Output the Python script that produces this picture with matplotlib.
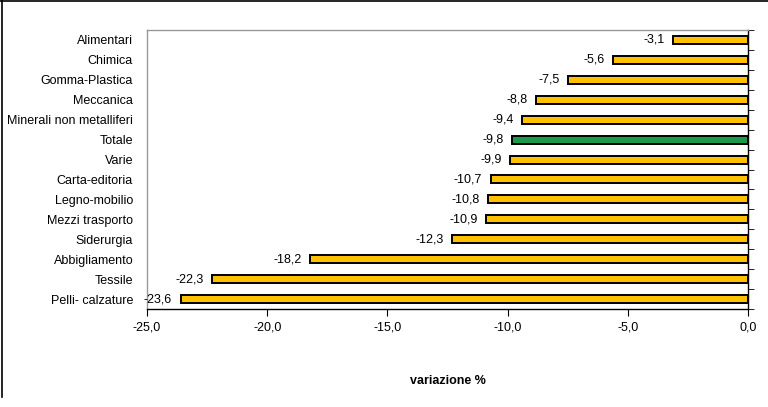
import matplotlib.pyplot as plt
from matplotlib.lines import Line2D

plt.rcParams['font.family'] = ['Liberation Sans', 'DejaVu Sans']

settori = ["Alimentari", "Chimica", "Gomma-Plastica", "Meccanica",
           "Minerali non metalliferi", "Totale", "Varie", "Carta-editoria",
           "Legno-mobilio", "Mezzi trasporto", "Siderurgia", "Abbigliamento",
           "Tessile", "Pelli- calzature"]
variazione = [-3.1, -5.6, -7.5, -8.8, -9.4, -9.8, -9.9, -10.7,
              -10.8, -10.9, -12.3, -18.2, -22.3, -23.6]
x_ticks = [-25, -20, -15, -10, -5, 0]

fig = plt.figure(figsize=(7.68, 4.07), dpi=100)
ax = fig.add_axes([147 / 768, 1 - 309 / 407, 601 / 768, 279 / 407])

colori = ["#1a9a4a" if s == "Totale" else "#ffc000" for s in settori]
pos = list(range(len(settori)))
ax.barh(pos, variazione, height=0.4, color=colori, edgecolor="black", linewidth=1.4)

for p, v in zip(pos, variazione):
    ax.text(v - 0.35, p, f"{v:.1f}".replace(".", ","), ha="right", va="center", fontsize=9)

ax.set_xlim(-25, 0)
ax.set_ylim(13.5, -0.5)
ax.set_xticks(x_ticks)
ax.set_xticklabels([f"{t:.1f}".replace(".", ",") for t in x_ticks], fontsize=9)
ax.set_yticks(pos)
ax.set_yticklabels(settori, fontsize=9)
ax.set_yticks([i - 0.5 for i in range(len(settori) + 1)], minor=True)
ax.tick_params(axis="y", which="major", length=0, pad=10)
ax.tick_params(axis="y", which="minor", left=False, right=True, length=4, direction="out")
ax.tick_params(axis="x", length=5, direction="out", pad=4)

for s in ["top", "left"]:
    ax.spines[s].set_color("#999999")
    ax.spines[s].set_linewidth(1)
for s in ["bottom", "right"]:
    ax.spines[s].set_color("black")
    ax.spines[s].set_linewidth(1)

ax.set_xlabel("variazione %", fontsize=9, fontweight="bold", labelpad=30)

# cornice del grafico (solo sopra e a sinistra)
fig.add_artist(Line2D([1.5 / 768, 1.5 / 768], [1 - 397 / 407, 1], color="black", lw=1.2, transform=fig.transFigure))
fig.add_artist(Line2D([0, 1], [1 - 1 / 407, 1 - 1 / 407], color="black", lw=1.2, transform=fig.transFigure))

fig.savefig("out.png", dpi=100)
